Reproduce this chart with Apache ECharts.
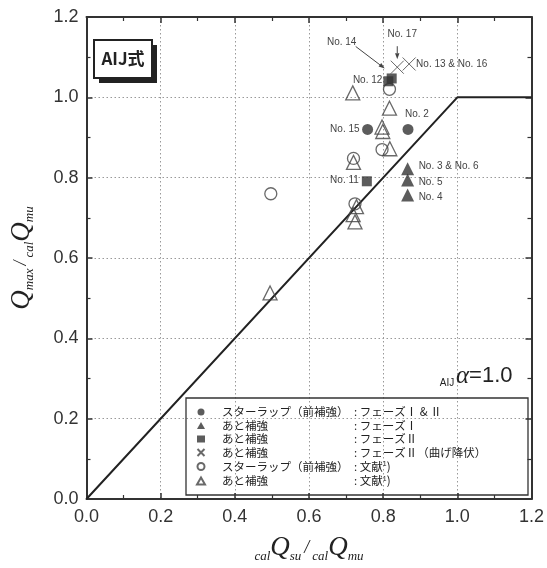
<!DOCTYPE html>
<html>
<head>
<meta charset="utf-8">
<script src="https://cdn.jsdelivr.net/npm/echarts@6/dist/echarts.min.js"></script>
<style>
  html, body { margin: 0; padding: 0; background: #fff; }
  #chart { width: 547px; height: 568px; }
</style>
</head>
<body>
<div id="chart"></div>
<script>
// Axis tick labels (both axes share the same range)
const xTickLabels = ['0.0', '0.2', '0.4', '0.6', '0.8', '1.0', '1.2'];
const yTickLabels = ['0.0', '0.2', '0.4', '0.6', '0.8', '1.0', '1.2'];

// AIJ capacity line (shear-governed up to 1.0, flexure cap beyond)
const capacityLine = [[0, 0], [1.0, 1.0], [1.2, 1.0]];

// Test series: [calQsu/calQmu, Qmax/calQmu]
const stirrupPhase12 = [[0.758, 0.920], [0.867, 0.920]];
const retrofitPhase1 = [[0.866, 0.822], [0.866, 0.794], [0.866, 0.757]];
const retrofitPhase2 = [[0.814, 1.040], [0.823, 1.047], [0.756, 0.791]];
const retrofitPhase2Flex = [[0.838, 1.075], [0.870, 1.083]];
const stirrupLiterature = [[0.817, 1.020], [0.797, 0.870], [0.720, 0.848], [0.724, 0.735], [0.497, 0.760]];
const retrofitLiterature = [
  [0.718, 1.011], [0.817, 0.973], [0.797, 0.926], [0.799, 0.915], [0.818, 0.872],
  [0.720, 0.838], [0.728, 0.728], [0.719, 0.708], [0.724, 0.690], [0.495, 0.513]
];

// Legend rows: left column, right column
const legendNames = ['スターラップ（前補強）', 'あと補強', 'あと補強', 'あと補強', 'スターラップ（前補強）', 'あと補強'];
const legendNotes = [': フェーズⅠ & Ⅱ', ': フェーズⅠ', ': フェーズⅡ', ': フェーズⅡ（曲げ降伏）', ': 文献', ': 文献'];
const legendSup = ['', '', '', '', '1', '1'];

// Specimen callouts anchored to their marks
const notes = [
  { text: 'No. 15', at: [0.758, 0.920], dx: -8, dy: 0, align: 'right' },
  { text: 'No. 2', at: [0.867, 0.920], dx: -3, dy: -15, align: 'left' },
  { text: 'No. 11', at: [0.756, 0.791], dx: -8, dy: -1, align: 'right' },
  { text: 'No. 12', at: [0.814, 1.040], dx: -6, dy: -1, align: 'right' },
  { text: 'No. 3 & No. 6', at: [0.866, 0.822], dx: 11, dy: -3, align: 'left' },
  { text: 'No. 5', at: [0.866, 0.794], dx: 11, dy: 2, align: 'left' },
  { text: 'No. 4', at: [0.866, 0.757], dx: 11, dy: 2, align: 'left' },
  { text: 'No. 13 & No. 16', at: [0.870, 1.083], dx: 7, dy: 0, align: 'left' },
  { text: 'No. 17', at: [0.838, 1.075], dx: 5, dy: -33, align: 'center' },
  { text: 'No. 14', at: [0.823, 1.047], dx: -50, dy: -36, align: 'center' }
];
const arrows = [
  { at: [0.838, 1.075], from: [0, -21], to: [0, -8] },
  { at: [0.823, 1.047], from: [-36, -32], to: [-7, -10] }
];

const DARK = '#333';
const crossPath = 'path://M0,0L10,10M10,0L0,10';

function valueLabel(list) {
  return function (v) {
    const i = Math.round(v / 0.2);
    return list[i] !== undefined ? list[i] : '';
  };
}

const qRich = {
  q: { fontFamily: 'Liberation Serif', fontStyle: 'italic', fontSize: 27, color: '#222', lineHeight: 30 },
  s: { fontFamily: 'Liberation Serif', fontStyle: 'italic', fontSize: 13, color: '#222', verticalAlign: 'bottom', lineHeight: 14, padding: [10, 0, 0, 0] },
  d: { fontFamily: 'Liberation Serif', fontStyle: 'italic', fontSize: 18, color: '#222', lineHeight: 20, padding: [0, 3, 0, 3] }
};

function baseAxis(extra) {
  return Object.assign({
    type: 'value', min: 0, max: 1.2, interval: 0.2,
    axisLine: { show: true, onZero: false, lineStyle: { color: DARK, width: 2 } },
    axisTick: { show: true, inside: true, length: 6, lineStyle: { color: DARK, width: 1.5 } },
    minorTick: { show: true, splitNumber: 2, length: 4, lineStyle: { color: DARK, width: 1.2 } },
    splitLine: { show: false },
    axisLabel: { show: false }
  }, extra);
}

const legendRich = {
  g: { width: 12 },
  a: { width: 132, fontFamily: 'Noto Sans CJK JP', fontSize: 11.5, color: '#222', lineHeight: 13 },
  b: { fontFamily: 'Noto Sans CJK JP', fontSize: 11.5, color: '#222', lineHeight: 13 },
  u: { fontFamily: 'Noto Sans CJK JP', fontSize: 7, color: '#222', lineHeight: 13, padding: [0, 0, 6, 0] }
};

const seriesKeys = ['k0', 'k1', 'k2', 'k3', 'k4', 'k5'];

const chart = echarts.init(document.getElementById('chart'), null, { renderer: 'canvas' });

const option = {
  animation: false,
  backgroundColor: '#fff',
  grid: { left: 70, right: 10, top: 17, bottom: 60 },
  xAxis: [
    baseAxis({
      position: 'bottom',
      splitLine: { show: true, lineStyle: { color: '#999', type: [1.5, 2.5], width: 1 } },
      axisLabel: {
        show: true, margin: 9, fontFamily: 'Liberation Sans', fontSize: 18, color: DARK,
        formatter: valueLabel(xTickLabels)
      },
      name: '{s|cal}{q|Q}{s|su}{d|/}{s|cal}{q|Q}{s|mu}',
      nameLocation: 'middle', nameGap: 34,
      nameTextStyle: { rich: qRich }
    }),
    baseAxis({ position: 'top' })
  ],
  yAxis: [
    baseAxis({
      position: 'left',
      splitLine: { show: true, lineStyle: { color: '#999', type: [1.5, 2.5], width: 1 } },
      axisLabel: {
        show: true, margin: 8, fontFamily: 'Liberation Sans', fontSize: 18, color: DARK,
        formatter: valueLabel(yTickLabels)
      },
      name: '{q|Q}{s|max}{d|/}{s|cal}{q|Q}{s|mu}',
      nameLocation: 'middle', nameGap: 50,
      nameTextStyle: { rich: qRich }
    }),
    baseAxis({ position: 'right' })
  ],
  legend: {
    show: true,
    orient: 'vertical',
    left: 196, top: 406,
    itemWidth: 8, itemHeight: 7, itemGap: 1.5,
    selectedMode: false,
    padding: 0,
    data: seriesKeys,
    formatter: function (name) {
      const i = seriesKeys.indexOf(name);
      let s = '{g|}{a|' + legendNames[i] + '}{b|' + legendNotes[i] + '}';
      if (legendSup[i]) s += '{u|' + legendSup[i] + '}{b|)}';
      return s;
    },
    textStyle: { rich: legendRich }
  },
  series: [
    {
      type: 'line', data: capacityLine, symbol: 'none', silent: true,
      lineStyle: { color: '#222', width: 2 }, z: 1
    },
    {
      name: 'k0', type: 'scatter', data: stirrupPhase12, symbol: 'circle', symbolSize: 11,
      itemStyle: { color: DARK }, z: 5
    },
    {
      name: 'k1', type: 'scatter', data: retrofitPhase1, symbol: 'triangle', symbolSize: 13,
      itemStyle: { color: DARK }, z: 5
    },
    {
      name: 'k2', type: 'scatter', data: retrofitPhase2, symbol: 'rect', symbolSize: 10,
      itemStyle: { color: DARK }, z: 5
    },
    {
      name: 'k3', type: 'scatter', data: retrofitPhase2Flex, symbol: crossPath, symbolSize: 13,
      itemStyle: { color: 'rgba(0,0,0,0)', borderColor: '#444', borderWidth: 1 }, z: 5
    },
    {
      name: 'k4', type: 'scatter', data: stirrupLiterature, symbol: 'circle', symbolSize: 12,
      itemStyle: { color: 'rgba(0,0,0,0)', borderColor: '#444', borderWidth: 1.3 }, z: 4
    },
    {
      name: 'k5', type: 'scatter', data: retrofitLiterature, symbol: 'triangle', symbolSize: 14,
      itemStyle: { color: 'rgba(0,0,0,0)', borderColor: '#444', borderWidth: 1.3 }, z: 4
    }
  ]
};

chart.setOption(option);

// Fixed decorations: title badge, coefficient note, legend frame
const elements = [
  { type: 'rect', shape: { x: 99, y: 45, width: 58, height: 38 }, style: { fill: '#222' }, z: 10 },
  { type: 'rect', shape: { x: 94, y: 40, width: 58, height: 38 }, style: { fill: '#fff', stroke: '#222', lineWidth: 2 }, z: 11 },
  {
    type: 'text', x: 123, y: 59, z: 12,
    style: { text: 'AIJ式', align: 'center', verticalAlign: 'middle', font: 'bold 17px "Noto Sans CJK JP"', fill: '#222' }
  },
  {
    type: 'text', x: 447, y: 383, z: 12,
    style: { text: 'AIJ', align: 'center', verticalAlign: 'middle', font: '10px "Liberation Sans"', fill: '#222' }
  },
  {
    type: 'text', x: 456, y: 376, z: 12,
    style: {
      text: '{al|α}{eq|=1.0}', align: 'left', verticalAlign: 'middle',
      rich: {
        al: { fontFamily: 'Liberation Serif', fontStyle: 'italic', fontSize: 25, fill: '#222' },
        eq: { fontFamily: 'Liberation Sans', fontSize: 22, fill: '#222' }
      }
    }
  },
  {
    type: 'rect', shape: { x: 186, y: 398, width: 342, height: 97 }, z: 12,
    style: { fill: 'none', stroke: '#333', lineWidth: 1.3 }
  }
];

// Specimen callouts placed next to their marks
notes.forEach(function (n) {
  const p = chart.convertToPixel({ gridIndex: 0 }, n.at);
  elements.push({
    type: 'text', x: p[0] + n.dx, y: p[1] + n.dy, z: 12,
    style: { text: n.text, align: n.align, verticalAlign: 'middle', font: '10px "Liberation Sans"', fill: '#444' }
  });
});
arrows.forEach(function (a) {
  const p = chart.convertToPixel({ gridIndex: 0 }, a.at);
  const x1 = p[0] + a.from[0], y1 = p[1] + a.from[1];
  const x2 = p[0] + a.to[0], y2 = p[1] + a.to[1];
  const ang = Math.atan2(y2 - y1, x2 - x1);
  const L = 6, W = 2.2;
  const bx = x2 - L * Math.cos(ang), by = y2 - L * Math.sin(ang);
  elements.push({
    type: 'line', z: 12, shape: { x1: x1, y1: y1, x2: bx, y2: by },
    style: { stroke: '#444', lineWidth: 1 }
  });
  elements.push({
    type: 'polygon', z: 12,
    shape: { points: [[x2, y2], [bx - W * Math.sin(ang), by + W * Math.cos(ang)], [bx + W * Math.sin(ang), by - W * Math.cos(ang)]] },
    style: { fill: '#444' }
  });
});

chart.setOption({ graphic: { elements: elements } });
</script>
</body>
</html>
